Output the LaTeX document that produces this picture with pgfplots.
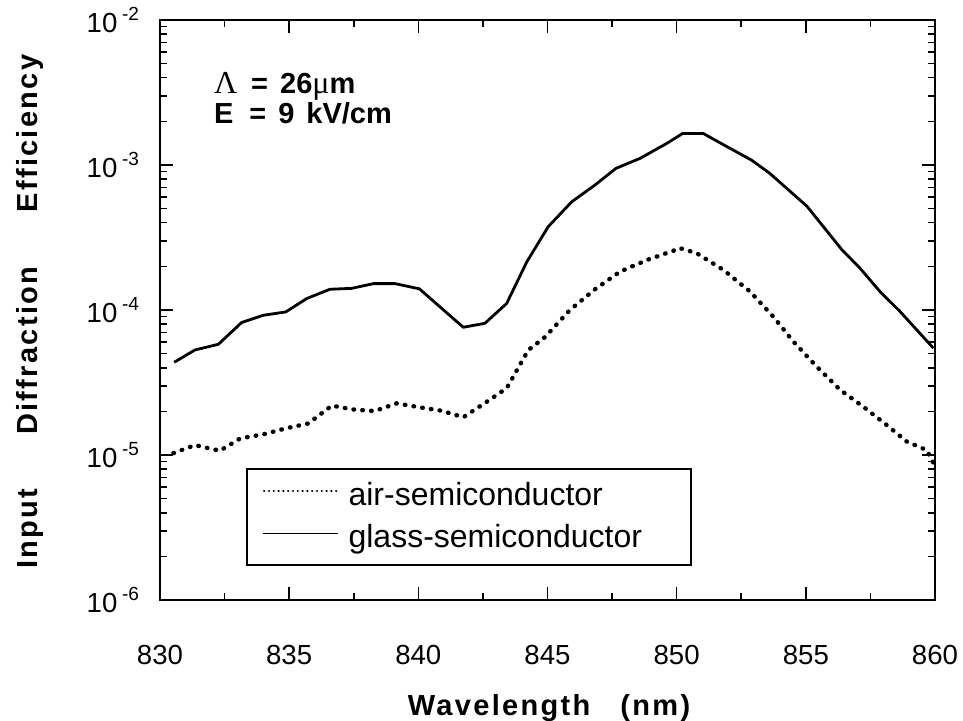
\documentclass[border=0pt]{standalone}
\usepackage{fontspec}
\setmainfont{Liberation Sans}
\newfontfamily\spaced[LetterSpace=8]{Liberation Sans}
\newfontfamily\sergr{Liberation Serif}
\usepackage{pgfplots}
\pgfplotsset{compat=1.18}
\newcommand{\tl}[1]{10\,\raisebox{0.8ex}{\fontsize{9.5}{10}\selectfont #1}}
\pgfplotstableread{
x y
830.55 4.36e-5
831.35 5.3e-5
832.26 5.8e-5
833.16 8.2e-5
834.0 9.2e-5
834.87 9.7e-5
835.68 1.2e-4
836.58 1.39e-4
837.42 1.41e-4
838.26 1.52e-4
839.1 1.52e-4
840.04 1.40e-4
841.74 7.6e-5
842.58 8.1e-5
843.42 1.11e-4
844.2 2.15e-4
845.03 3.76e-4
845.94 5.58e-4
846.84 7.28e-4
847.65 9.48e-4
848.58 1.11e-3
849.62 1.41e-3
850.23 1.65e-3
851.03 1.65e-3
851.94 1.34e-3
852.9 1.08e-3
853.6 8.77e-4
855.04 5.2e-4
856.4 2.6e-4
857.1 1.94e-4
857.87 1.34e-4
858.65 9.75e-5
859.94 5.45e-5
}\glass
\pgfplotstableread{
x y
830.52 1.03e-5
831.35 1.17e-5
832.32 1.07e-5
833.1 1.30e-5
834.0 1.39e-5
834.9 1.53e-5
835.74 1.65e-5
836.65 2.19e-5
837.48 2.06e-5
838.32 2.01e-5
839.16 2.27e-5
840.07 2.13e-5
840.9 2.02e-5
841.74 1.82e-5
842.65 2.33e-5
843.42 2.89e-5
844.26 5.3e-5
844.9 6.5e-5
845.87 1.0e-4
846.84 1.39e-4
847.81 1.84e-4
848.84 2.21e-4
849.87 2.56e-4
850.1 2.68e-4
850.78 2.46e-4
851.81 1.89e-4
852.84 1.34e-4
853.74 9.0e-5
854.52 6.05e-5
855.42 4.07e-5
856.33 2.81e-5
857.23 2.15e-5
858.13 1.61e-5
858.9 1.24e-5
859.68 1.08e-5
859.94 8.8e-6
}\air
\begin{document}
\begin{tikzpicture}
\begin{axis}[
  scale only axis, width=387.5pt, height=290pt,
  xmin=830, xmax=860, ymin=1e-6, ymax=1e-2, ymode=log,
  xtick={830,835,840,845,850,855,860},
  xticklabels={830,835,840,845,850,855,860},
  minor xtick={832.5,837.5,842.5,847.5,852.5,857.5},
  ytick={1e-6,1e-5,1e-4,1e-3,1e-2},
  yticklabels={\tl{-6},\tl{-5},\tl{-4},\tl{-3},\tl{-2}},
  minor ytick={2e-6,3e-6,4e-6,5e-6,6e-6,7e-6,8e-6,9e-6,
               2e-5,3e-5,4e-5,5e-5,6e-5,7e-5,8e-5,9e-5,
               2e-4,3e-4,4e-4,5e-4,6e-4,7e-4,8e-4,9e-4,
               2e-3,3e-3,4e-3,5e-3,6e-3,7e-3,8e-3,9e-3},
  tick align=inside,
  major tick length=6.5pt, minor tick length=3.5pt,
  axis line style={line width=1pt},
  every tick/.style={line width=0.8pt, black},
  tick label style={font=\fontsize{13.8}{16}\selectfont},
  xticklabel style={yshift=-19pt},
  yticklabel style={xshift=-7pt},
  clip=false,
  legend style={draw=none, fill=none, at={(0.1316,0.2103)}, anchor=north west,
    inner sep=0pt, row sep=0pt, font=\fontsize{16}{18}\selectfont,
    nodes={inner sep=0pt, text height=13.5pt, text depth=7.5pt},
    /tikz/column sep=5pt},
  legend cell align=left,
]
\addplot[black, line width=2.2pt, line cap=round, dash pattern=on 0.3pt off 4.1pt,
  legend image code/.code={\draw[black, line width=1pt, line cap=round, dash pattern=on 0.2pt off 2.2pt] (0.5pt,4pt) -- (37pt,4pt);}]
  table[x=x,y=y] {\air};
\addlegendentry{air-semiconductor}
\addplot[black, line width=1.4pt, line join=round,
  legend image code/.code={\draw[black, line width=0.6pt] (0pt,4pt) -- (37.5pt,4pt);}]
  table[x=x,y=y] {\glass};
\addlegendentry{glass-semiconductor}
\draw[line width=0.7pt] (rel axis cs:0.1123,0.0603) rectangle (rel axis cs:0.685,0.2259);
\node[anchor=base west, font=\bfseries\fontsize{14.5}{16}\selectfont] at (rel axis cs:0.0606,0.874)
  {{\sergr\mdseries\fontsize{16}{16}\selectfont Λ}\hspace{7pt}=\hspace{6pt}26{\sergr\mdseries\fontsize{16}{16}\selectfont μ}m};
\node[anchor=base west, font=\bfseries\fontsize{14.5}{16}\selectfont] at (rel axis cs:0.0606,0.8207)
  {E\hspace{8pt}=\hspace{6pt}9\hspace{6pt}kV/cm};
\node[rotate=90, font=\spaced\bfseries\fontsize{14.5}{16}\selectfont] at (rel axis cs:-0.168,0.497)
  {Input\hspace{27pt}Diffraction\hspace{27pt}Efficiency};
\node[font=\spaced\bfseries\fontsize{14.5}{16}\selectfont] at (rel axis cs:0.502,-0.186)
  {Wavelength\hspace{15pt}(nm)};
\end{axis}
\pgfresetboundingbox
\path (-80pt,-60.5pt) rectangle (401.5pt,300pt);
\end{tikzpicture}
\end{document}
